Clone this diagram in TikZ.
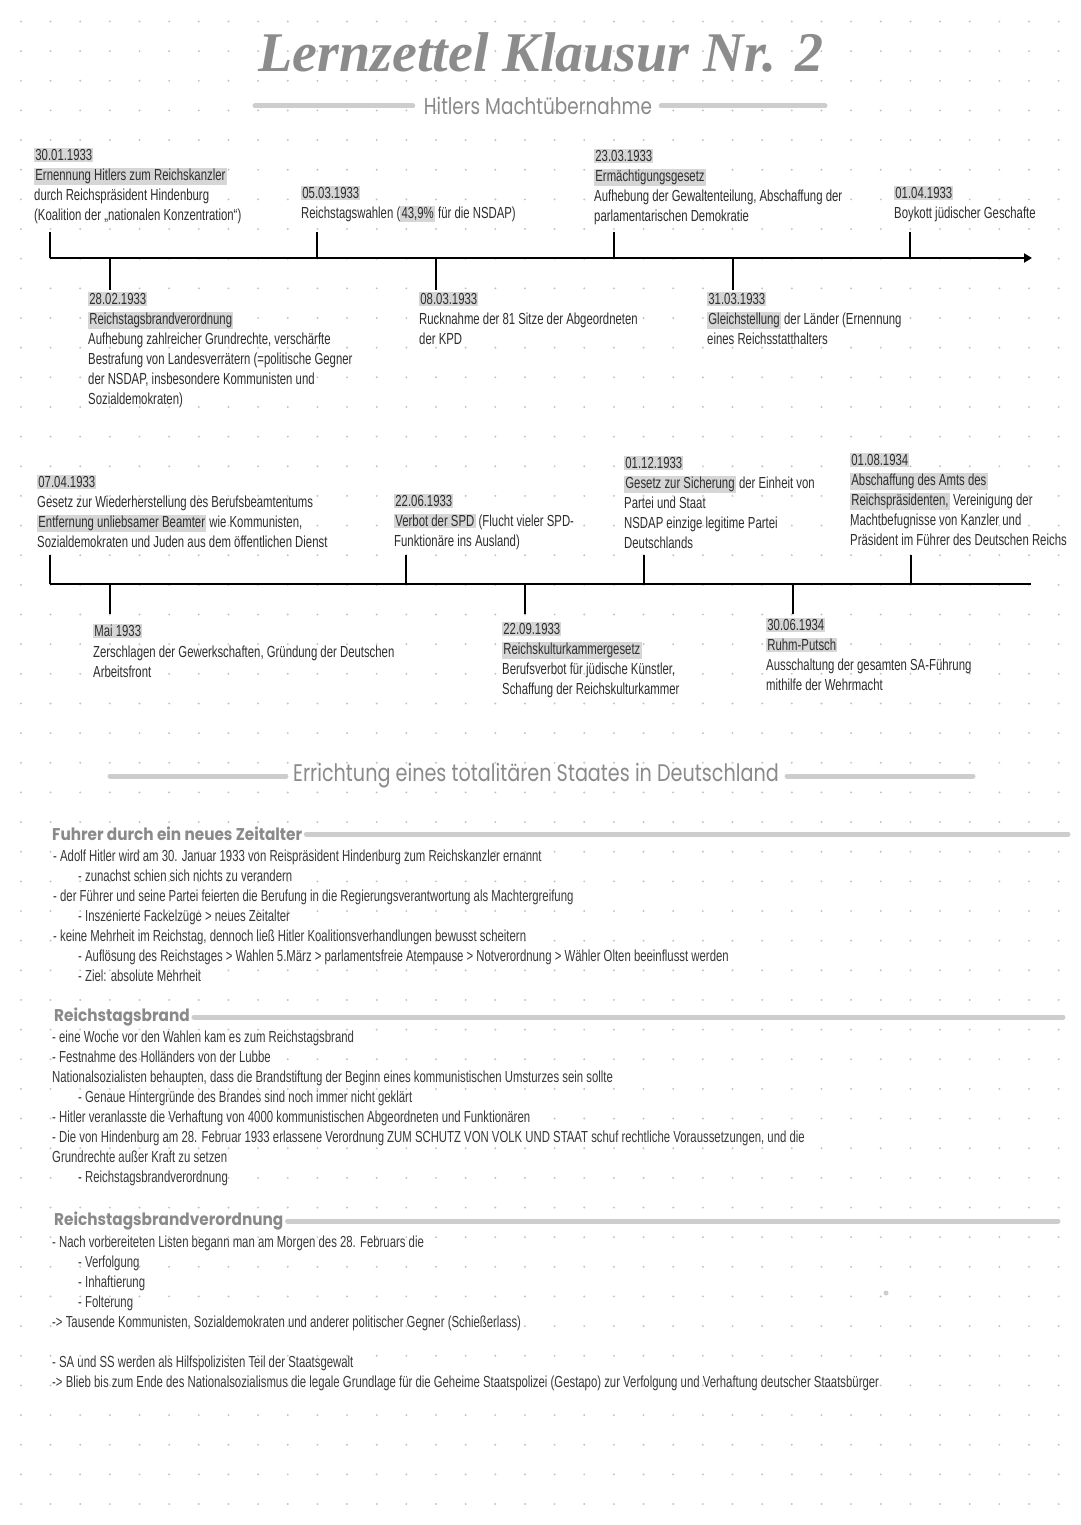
\documentclass[tikz,border=0pt]{standalone}
\usepackage{fontspec}
\usetikzlibrary{arrows.meta}
\setmainfont{Liberation Sans}
\newfontfamily\hand{Liberation Sans}[FakeStretch=0.71]
\newfontfamily\decoN{Poppins}[FakeStretch=0.8]
\newfontfamily\decoH{Poppins}[FakeStretch=0.9]
\newfontfamily\titlef{Liberation Serif}
\definecolor{hl}{HTML}{D6D6D6}
\definecolor{dotc}{HTML}{C4C4C4}
\definecolor{ink}{HTML}{2E2E2E}
\definecolor{body}{HTML}{3A3A3A}
\definecolor{headc}{HTML}{8A8A8A}
\definecolor{titlec}{HTML}{8C8C8C}
\definecolor{rulec}{HTML}{CDCDCD}
\newcommand\hlt[1]{{\setlength{\fboxsep}{1.2pt}\colorbox{hl}{#1}}}
\tikzset{
  txt/.style={anchor=north west, inner sep=0pt, align=left, text=ink, yshift=1pt,
    font=\hand\fontsize{16}{20}\selectfont},
  bodytxt/.style={txt, text=body},
  axisline/.style={line width=2pt, black},
  tickline/.style={line width=2pt, black},
  decorule/.style={line width=5pt, rulec, line cap=round},
  subhead/.style={anchor=west, inner sep=0pt, text=headc,
    font=\decoH\bfseries\fontsize{17}{19}\selectfont},
  bighead/.style={inner sep=0pt, text=headc,
    font=\decoN\fontsize{24}{26}\selectfont}
}
\begin{document}
\begin{tikzpicture}[x=1pt,y=-1pt]
\useasboundingbox (0,0) rectangle (1080,1525);
\fill[white] (0,0) rectangle (1080,1525);
% dot grid
\foreach \i in {0,...,36}{
  \foreach \j in {0,...,51}{
    \fill[dotc] (20.9+\i*29.65, 21.5+\j*29.65) circle (1.1pt);
  }
}
% title
\node[inner sep=0pt, text=titlec, font=\titlef\bfseries\itshape\fontsize{56}{60}\selectfont] (title) at (541,52) {Lernzettel Klausur Nr. 2};
\node[bighead, font=\decoN\fontsize{23}{25}\selectfont] (sub) at (538,106) {Hitlers Machtübernahme};
\draw[decorule] ([xshift=-11pt]sub.west) -- (255,106);
\draw[decorule] ([xshift=9pt]sub.east) -- (825,106);

% ===== timeline 1 =====
\coordinate (t1s) at (50,258);
\coordinate (t1e) at (1032,258);
\draw[axisline, -{Triangle[length=8pt,width=9pt]}] (t1s) -- (t1e);
\foreach \x/\n in {50/a,317/b,614/c,910/d}{
  \coordinate (t1\n) at (\x,258);
  \coordinate (t1\n u) at (\x,232);
  \draw[tickline] (t1\n) -- (t1\n u);
}
\foreach \x/\n in {110/e,436/f,733/g}{
  \coordinate (t1\n) at (\x,258);
  \coordinate (t1\n d) at (\x,290);
  \draw[tickline] (t1\n) -- (t1\n d);
}
\node[txt] (ev1) at (34,149) {\hlt{30.01.1933}\\\hlt{Ernennung Hitlers zum Reichskanzler}\\durch Reichspräsident Hindenburg\\(Koalition der „nationalen Konzentration“)};
\node[txt] (ev2) at (301,187) {\hlt{05.03.1933}\\Reichstagswahlen (\hlt{43,9\%} für die NSDAP)};
\node[txt] (ev3) at (594,150) {\hlt{23.03.1933}\\\hlt{Ermächtigungsgesetz}\\Aufhebung der Gewaltenteilung, Abschaffung der\\parlamentarischen Demokratie};
\node[txt] (ev4) at (894,187) {\hlt{01.04.1933}\\Boykott jüdischer Geschafte};
\node[txt] (ev5) at (88,293) {\hlt{28.02.1933}\\\hlt{Reichstagsbrandverordnung}\\Aufhebung zahlreicher Grundrechte, verschärfte\\Bestrafung von Landesverrätern (=politische Gegner\\der NSDAP, insbesondere Kommunisten und\\Sozialdemokraten)};
\node[txt] (ev6) at (419,293) {\hlt{08.03.1933}\\Rucknahme der 81 Sitze der Abgeordneten\\der KPD};
\node[txt] (ev7) at (707,293) {\hlt{31.03.1933}\\\hlt{Gleichstellung} der Länder (Ernennung\\eines Reichsstatthalters};

% ===== timeline 2 =====
\coordinate (t2s) at (50,584);
\coordinate (t2e) at (1031,584);
\draw[axisline] (t2s) -- (t2e);
\foreach \x/\n in {50/a,406/b,644/c,911/d}{
  \coordinate (t2\n) at (\x,584);
  \coordinate (t2\n u) at (\x,555);
  \draw[tickline] (t2\n) -- (t2\n u);
}
\foreach \x/\n in {110/e,525/f,793/g}{
  \coordinate (t2\n) at (\x,584);
  \coordinate (t2\n d) at (\x,614);
  \draw[tickline] (t2\n) -- (t2\n d);
}
\node[txt] (ev8) at (37,476) {\hlt{07.04.1933}\\Gesetz zur Wiederherstellung des Berufsbeamtentums\\\hlt{Entfernung unliebsamer Beamter} wie Kommunisten,\\Sozialdemokraten und Juden aus dem öffentlichen Dienst};
\node[txt] (ev9) at (394,495) {\hlt{22.06.1933}\\\hlt{Verbot der SPD} (Flucht vieler SPD-\\Funktionäre ins Ausland)};
\node[txt] (ev10) at (624,457) {\hlt{01.12.1933}\\\hlt{Gesetz zur Sicherung} der Einheit von\\Partei und Staat\\NSDAP einzige legitime Partei\\Deutschlands};
\node[txt] (ev11) at (850,454) {\hlt{01.08.1934}\\\hlt{Abschaffung des Amts des}\\\hlt{Reichspräsidenten,} Vereinigung der\\Machtbefugnisse von Kanzler und\\Präsident im Führer des Deutschen Reichs};
\node[txt] (ev12) at (93,625) {\hlt{Mai 1933}\\Zerschlagen der Gewerkschaften, Gründung der Deutschen\\Arbeitsfront};
\node[txt] (ev13) at (502,623) {\hlt{22.09.1933}\\\hlt{Reichskulturkammergesetz}\\Berufsverbot für jüdische Künstler,\\Schaffung der Reichskulturkammer};
\node[txt] (ev14) at (766,619) {\hlt{30.06.1934}\\\hlt{Ruhm-Putsch}\\Ausschaltung der gesamten SA-Führung\\mithilfe der Wehrmacht};

% ===== section =====
\node[bighead] (sec) at (536,776) {Errichtung eines totalitären Staates in Deutschland};
\draw[decorule] ([xshift=-7pt]sec.west) -- (110,776);
\draw[decorule] ([xshift=8pt]sec.east) -- (973,776);

\node[subhead] (h1) at (52,834) {Fuhrer durch ein neues Zeitalter};
\draw[decorule] ([xshift=4pt]h1.east) -- (1068,834);
\node[bodytxt] (s1) at (53,851) {- Adolf Hitler wird am 30. Januar 1933 von Reispräsident Hindenburg zum Reichskanzler ernannt\\
\hspace*{25pt}- zunachst schien sich nichts zu verandern\\
- der Führer und seine Partei feierten die Berufung in die Regierungsverantwortung als Machtergreifung\\
\hspace*{25pt}- Inszenierte Fackelzüge > neues Zeitalter\\
- keine Mehrheit im Reichstag, dennoch ließ Hitler Koalitionsverhandlungen bewusst scheitern\\
\hspace*{25pt}- Auflösung des Reichstages > Wahlen 5.März > parlamentsfreie Atempause > Notverordnung > Wähler Olten beeinflusst werden\\
\hspace*{25pt}- Ziel: absolute Mehrheit};

\node[subhead] (h2) at (54,1017) {Reichstagsbrand};
\draw[decorule] ([xshift=4pt]h2.east) -- (1063,1017);
\node[bodytxt] (s2) at (52,1032) {- eine Woche vor den Wahlen kam es zum Reichstagsbrand\\
- Festnahme des Holländers von der Lubbe\\
Nationalsozialisten behaupten, dass die Brandstiftung der Beginn eines kommunistischen Umsturzes sein sollte\\
\hspace*{26pt}- Genaue Hintergründe des Brandes sind noch immer nicht geklärt\\
- Hitler veranlasste die Verhaftung von 4000 kommunistischen Abgeordneten und Funktionären\\
- Die von Hindenburg am 28. Februar 1933 erlassene Verordnung ZUM SCHUTZ VON VOLK UND STAAT schuf rechtliche Voraussetzungen, und die\\
Grundrechte außer Kraft zu setzen\\
\hspace*{26pt}- Reichstagsbrandverordnung};

\node[subhead] (h3) at (54,1221) {Reichstagsbrandverordnung};
\draw[decorule] ([xshift=4pt]h3.east) -- (1058,1221);
\node[bodytxt] (s3) at (52,1237) {- Nach vorbereiteten Listen begann man am Morgen des 28. Februars die\\
\hspace*{26pt}- Verfolgung\\
\hspace*{26pt}- Inhaftierung\\
\hspace*{26pt}- Folterung\\
-> Tausende Kommunisten, Sozialdemokraten und anderer politischer Gegner (Schießerlass)\\[20pt]
- SA und SS werden als Hilfspolizisten Teil der Staatsgewalt\\
-> Blieb bis zum Ende des Nationalsozialismus die legale Grundlage für die Geheime Staatspolizei (Gestapo) zur Verfolgung und Verhaftung deutscher Staatsbürger};
\fill[rulec] (886,1293) circle (2.5pt);
\end{tikzpicture}
\end{document}
